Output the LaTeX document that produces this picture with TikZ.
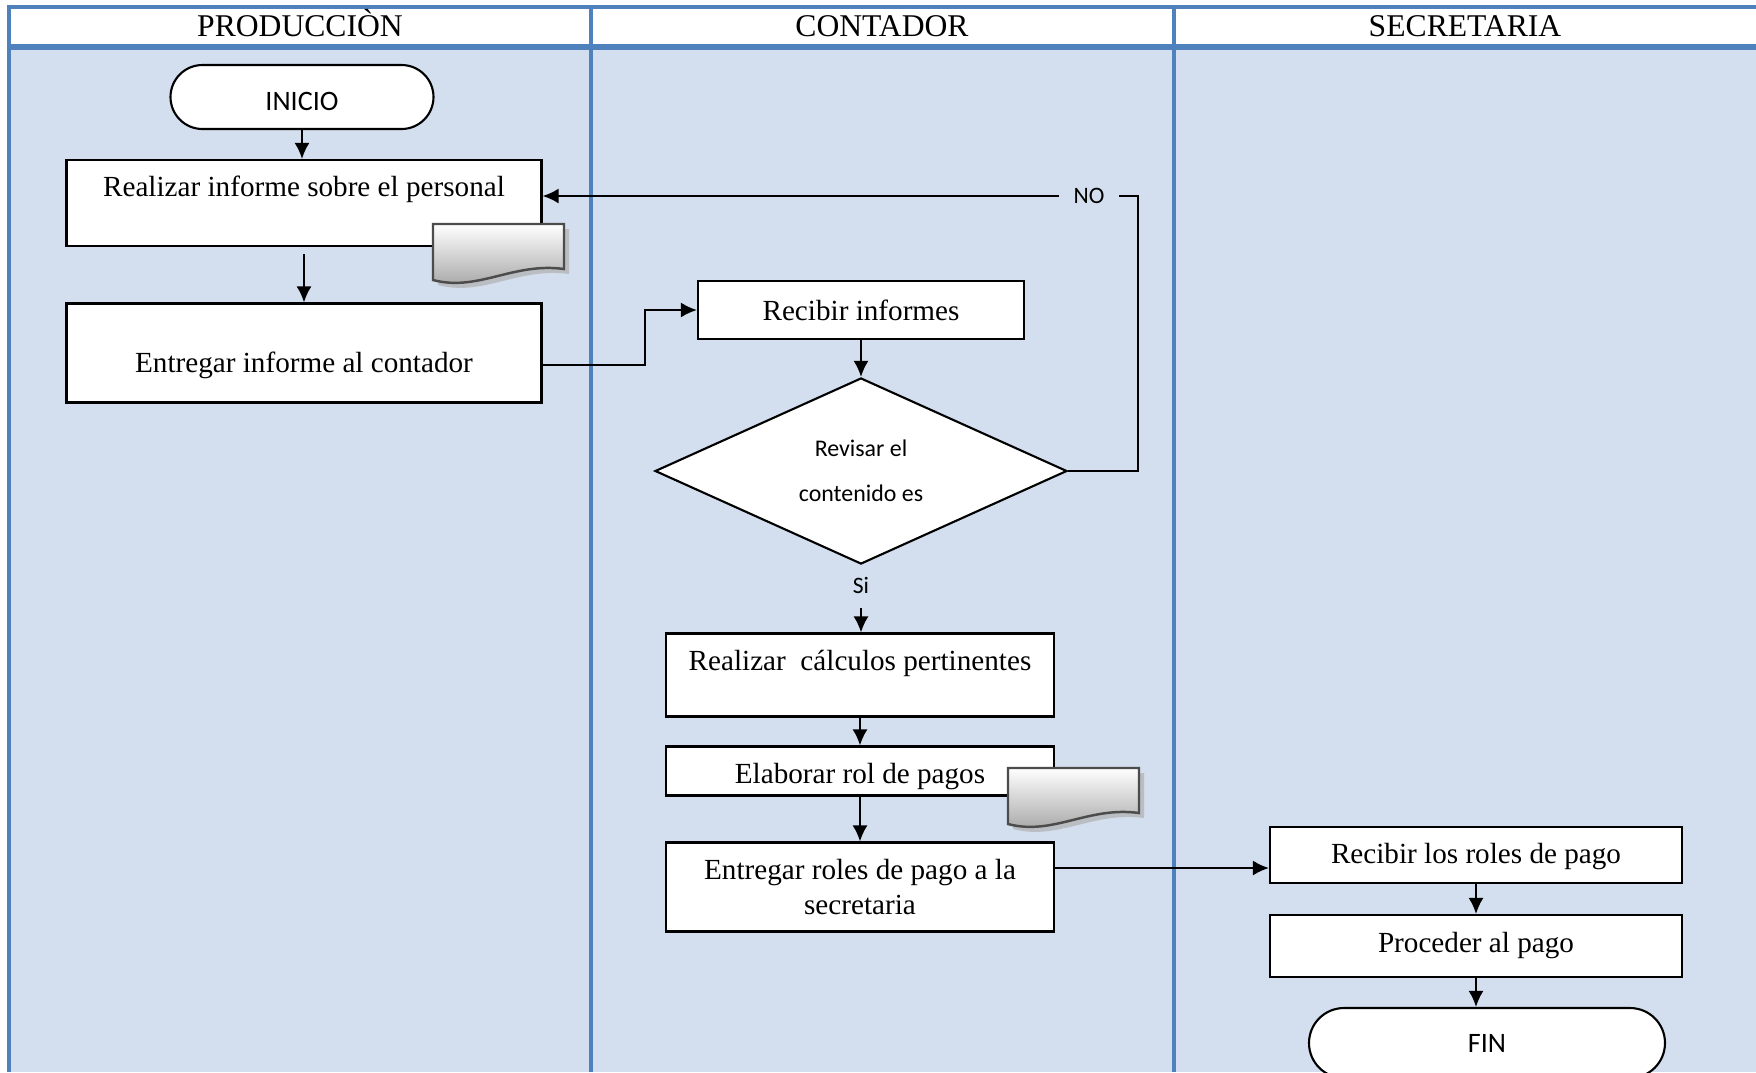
\documentclass[tikz,border=0pt]{standalone}
\usepackage{fontspec}
\setmainfont{Liberation Serif}
\newfontfamily\carlito{Carlito}
\usetikzlibrary{shapes.geometric,arrows.meta,calc}

\definecolor{laneblue}{RGB}{79,129,189}
\definecolor{lanefill}{RGB}{211,223,238}

\tikzset{docsheet/.pic={
  \fill[gray!60,opacity=.75] (5,5) -- (136,5) -- (136,50) .. controls (85,43) and (50,73) .. (5,61) -- cycle;
  \draw[gray!60!black,line width=.7pt,top color=white,bottom color=gray!75]
    (0,0) -- (131,0) -- (131,45) .. controls (80,38) and (45,68) .. (0,56) -- cycle;
}}

\begin{document}
\begin{tikzpicture}[x=0.1mm,y=-0.1mm,line width=.6pt,>={Latex[length=1.6mm,width=1.5mm]},
box/.style={draw,rectangle,fill=white,inner sep=0pt,align=center,font=\fontsize{8.3}{9.7}\selectfont},
term/.style={draw,rectangle,fill=white,inner sep=0pt,font=\carlito\fontsize{8}{9}\selectfont},
decision/.style={draw,diamond,fill=white,inner sep=0pt,align=center,font=\carlito\fontsize{6.8}{12.8}\selectfont},
tag/.style={inner sep=1.4mm,font=\carlito\fontsize{6.7}{8}\selectfont},
lanehead/.style={font=\fontsize{9}{10}\selectfont,text height=2.1mm,text depth=0mm},
lane/.style={laneblue,line width=.9pt}]
\clip (0,0) rectangle (1756,1072);
\fill[white] (0,0) rectangle (1756,1072);
\fill[lanefill] (9,47) rectangle (1756,1072);
\draw[lane] (1756,7) -- (9,7) -- (9,1072);
\draw[lane,line width=1.5pt] (9,47) -- (1756,47);
\foreach \x in {591,1174} \draw[lane] (\x,7) -- (\x,1072);
\draw (300,26) node[lanehead] (hprod) {PRODUCCIÒN};
\draw (882,26) node[lanehead] (hcont) {CONTADOR};
\draw (1465,26) node[lanehead] (hsecr) {SECRETARIA};

\draw (302,97) node[term,minimum width=26.3mm,minimum height=6.4mm,rounded corners=3.2mm,text height=2.6mm,text depth=0mm] (inicio) {INICIO};
\draw (304,203) node[box,minimum width=47.5mm,minimum height=8.6mm,text height=2mm,text depth=3.3mm] (informe) {Realizar informe sobre el personal};
\draw (304,353) node[box,minimum width=47.5mm,minimum height=9.9mm,text height=4.4mm,text depth=.6mm] (entregar) {Entregar informe al contador};
\draw (861,310) node[box,minimum width=32.6mm,minimum height=5.8mm] (recibir) {Recibir informes};
\draw (861,471) node[decision,minimum width=41.2mm,minimum height=17.8mm] (revisar) {Revisar el\\contenido es};
\draw (1089,196) node[tag] (no) {NO};
\draw (861,585) node[tag] (si) {Si};
\draw (860,675) node[box,minimum width=38.8mm,minimum height=8.3mm,text height=2mm,text depth=3mm] (calculos) {Realizar\ \ cálculos pertinentes};
\draw (860,771) node[box,minimum width=38.8mm,minimum height=4.9mm,text height=3mm,text depth=.6mm] (rol) {Elaborar rol de pagos};
\draw (860,887) node[box,minimum width=38.8mm,minimum height=8.9mm] (entroles) {Entregar roles de pago a la\\secretaria};
\draw (1476,855) node[box,minimum width=41.2mm,minimum height=5.6mm,text height=2.4mm] (recroles) {Recibir los roles de pago};
\draw (1476,946) node[box,minimum width=41.2mm,minimum height=6.2mm] (pago) {Proceder al pago};
\draw (1487,1043) node[term,minimum width=35.6mm,minimum height=7mm,rounded corners=3.5mm] (fin) {FIN};
\pic at (433,224) {docsheet};
\pic at (1008,768) {docsheet};

\draw[->] (inicio.south) -- (inicio.south |- informe.north);
\draw[->,shorten <=.7mm] (informe.south) -- (entregar.north);
\draw[->] ($(entregar.east)+(0,12)$) -- ++(102,0) |- (recibir.west);
\draw[->] (recibir) -- (revisar);
\draw (revisar.east) -- ++(70,0) |- (no.east);
\draw[->] (no.west) -- (informe.east |- no.west);
\draw[->] (si.south) -- (si.south |- calculos.north);
\draw[->] (calculos) -- (rol);
\draw[->] (rol) -- (entroles);
\draw[->] ($(entroles.east)+(0,-19)$) coordinate (e) -- (recroles.west |- e);
\draw[->] (recroles) -- (pago);
\draw[->] (pago.south) -- (pago.south |- fin.north);
\end{tikzpicture}
\end{document}
